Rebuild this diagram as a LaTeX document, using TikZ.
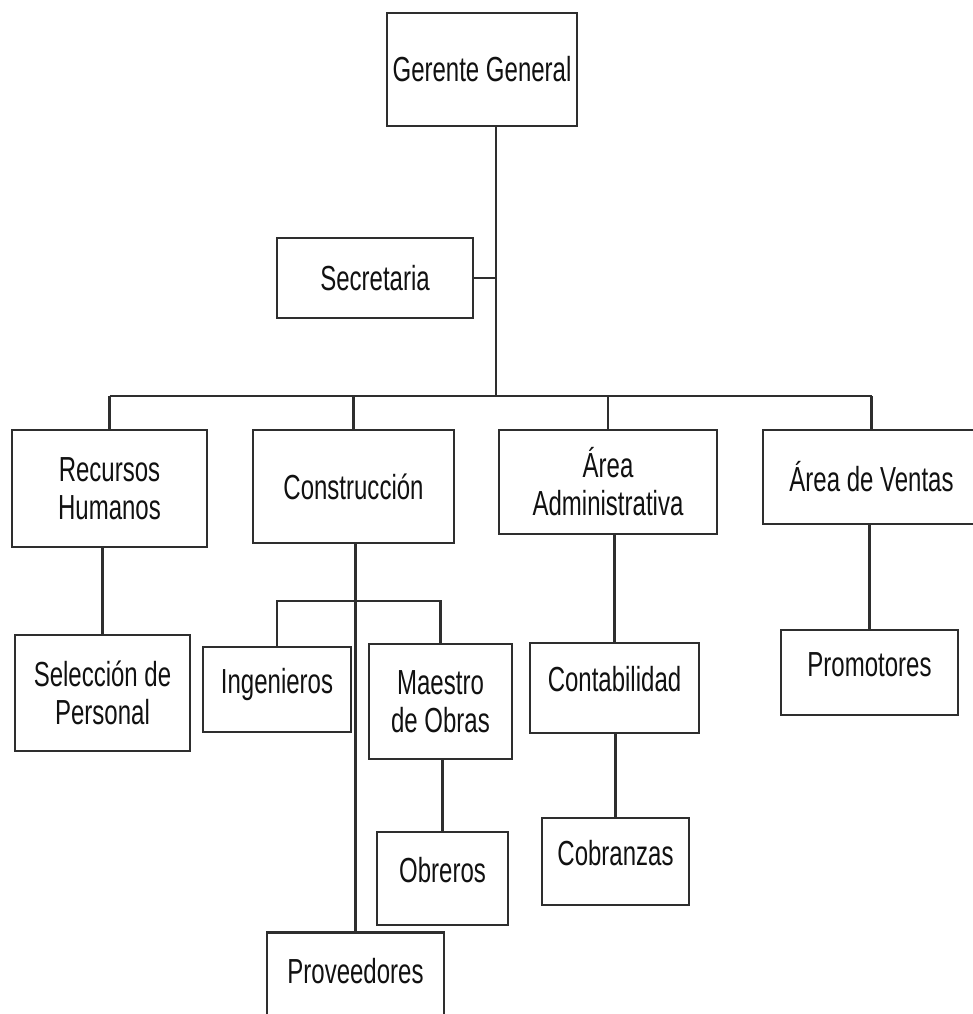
\documentclass[tikz,border=0pt]{standalone}
\usepackage{fontspec}
\setmainfont[FakeStretch=0.69]{Liberation Sans}
\usepackage{tikz}
\usetikzlibrary{positioning,calc}
\definecolor{ChartInk}{HTML}{111111}
\definecolor{ChartRule}{HTML}{2E2E2E}

\begin{document}
\begin{tikzpicture}[
  x=0.02cm,y=-0.02cm,
  every node/.style={font=\fontsize{19.8}{21.6}\selectfont,text=ChartInk},
  unit/.style={draw=ChartRule,line width=1.4pt,fill=white,inner sep=0pt,
    align=center},
  upper/.style={text height=0.55cm,text depth=0.41cm},
  link/.style={draw=ChartRule,line width=1.3pt}
]
% Canvas fixed at the reference size; outer boxes are cut at the edges.
\clip (0,0) rectangle (973,1014);
\fill[white] (0,0) rectangle (973,1014);
% Top of the hierarchy.
\node[unit,minimum width=3.8cm,minimum height=2.26cm] (gg) at (482,69.5)
  {Gerente General};
\node[unit,minimum width=3.92cm,minimum height=1.6cm] (sec) at (375,278)
  {Secretaria};
\coordinate (trunk) at (496,396);
% Departments.
\node[unit,minimum width=3.9cm,minimum height=2.34cm] (rh) at (109.5,488.5)
  {Recursos\\Humanos};
\node[unit,minimum width=4.02cm,minimum height=2.26cm] (con) at (353.5,486.5)
  {Construcción};
\node[unit,minimum width=4.36cm,minimum height=2.08cm] (aa) at (608,482)
  {Área\\Administrativa};
\node[unit,minimum width=4.34cm,minimum height=1.88cm] (av) at (871.5,477)
  {Área de Ventas};
% Sections under each department.
\node[unit,minimum width=3.5cm,minimum height=2.32cm] (sel) at (102.5,693)
  {Selección de\\Personal};
\node[unit,upper,minimum width=2.96cm,minimum height=1.7cm] (ing) at (277,689.5)
  {Ingenieros};
\node[unit,minimum width=2.86cm,minimum height=2.3cm] (mae) at (440.5,701.5)
  {Maestro\\de Obras};
\node[unit,upper,minimum width=2.62cm,minimum height=1.86cm] (obr) at (442.5,878.5)
  {Obreros};
\node[unit,upper,minimum width=3.54cm,minimum height=1.9cm] (prov) at (355.5,980)
  {Proveedores};
\node[unit,upper,minimum width=3.38cm,minimum height=1.8cm] (cont) at (614.5,688)
  {Contabilidad};
\node[unit,upper,minimum width=2.94cm,minimum height=1.74cm] (cob) at (615.5,861.5)
  {Cobranzas};
\node[unit,upper,minimum width=3.54cm,minimum height=1.7cm] (prom) at (869.5,672.5)
  {Promotores};
% Reporting lines.
\draw[link] (gg.south -| trunk) -- (trunk);
\draw[link] (sec.east) -- (sec.east -| trunk);
\draw[link] (rh.north |- trunk) -- (av.north |- trunk);
\draw[link] (rh.north) -- (rh.north |- trunk);
\draw[link] (con.north) -- (con.north |- trunk);
\draw[link] (aa.north) -- (aa.north |- trunk);
\draw[link] (av.north) -- (av.north |- trunk);
\draw[link] (sel.north) -- (sel.north |- rh.south);
\draw[link] (prov.north) -- (prov.north |- con.south);
\coordinate (conbus) at (357,601);
\draw[link] (ing.north) |- (conbus) -| (mae.north);
\draw[link] (obr.north) -- (obr.north |- mae.south);
\draw[link] (cont.north) -- (cont.north |- aa.south);
\draw[link] (cob.north) -- (cob.north |- cont.south);
\draw[link] (prom.north) -- (prom.north |- av.south);
\end{tikzpicture}
\end{document}
